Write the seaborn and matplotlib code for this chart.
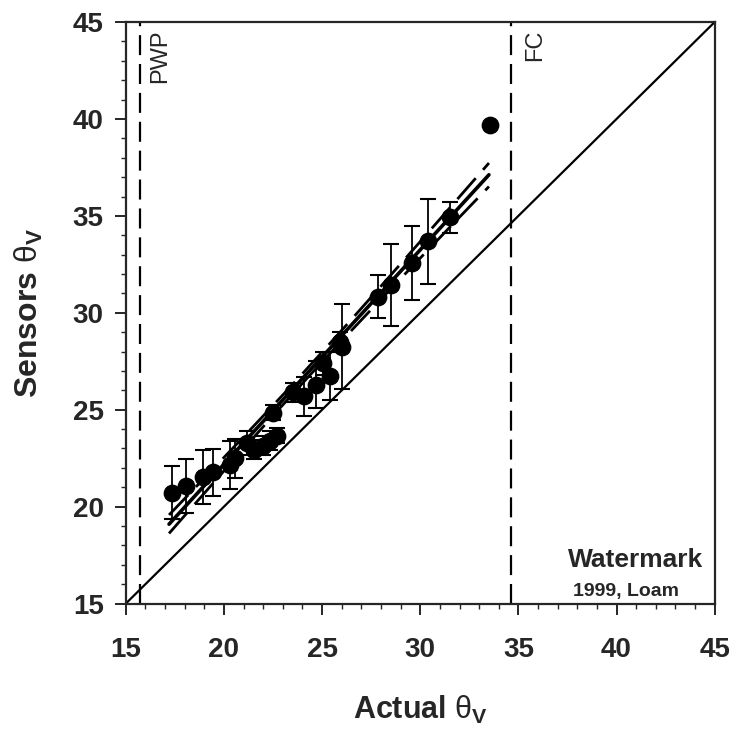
import numpy as np
import pandas as pd
import seaborn as sns
import matplotlib
matplotlib.use("Agg")
import matplotlib.pyplot as plt

# values
actual = [17.33, 18.06, 18.91, 19.42, 20.30, 20.56, 21.16, 21.53, 21.99, 22.35,
          22.70, 22.50, 23.50, 24.08, 24.69, 25.05, 25.41, 25.90, 26.00, 27.87,
          28.52, 29.60, 30.38, 31.50, 33.57]
sensors = [20.72, 21.05, 21.53, 21.77, 22.16, 22.50, 23.28, 22.94, 23.14, 23.40,
           23.66, 24.85, 25.90, 25.69, 26.29, 27.40, 26.75, 28.50, 28.26, 30.84,
           31.44, 32.58, 33.68, 34.93, 39.69]
sensors_err = [1.35, 1.40, 1.40, 1.20, 1.25, 1.00, 0.60, 0.50, 0.50, 0.50,
               0.40, 0.40, 0.50, 1.00, 1.20, 0.60, 1.25, 0.50, 2.20, 1.10,
               2.10, 1.90, 2.20, 0.80, 0.0]

# regression line and its confidence band
fit_slope = 1.106
fit_intercept = 0.07
fit_range = [17.2, 33.5]
resid_sd = 0.6
t_val = 2.07

pwp = 15.7
fc = 34.6
lims = [15, 45]

df = pd.DataFrame({"actual": actual, "sensors": sensors, "err": sensors_err})

xs = np.linspace(fit_range[0], fit_range[1], 60)
n = len(actual)
xbar = np.mean(actual)
sxx = np.sum((np.array(actual) - xbar) ** 2)
yfit = fit_intercept + fit_slope * xs
hw = t_val * resid_sd * np.sqrt(1 / n + (xs - xbar) ** 2 / sxx)
fit_df = pd.DataFrame({"x": xs, "fit": yfit, "lo": yfit - hw, "hi": yfit + hw})

sns.set_style("ticks")
plt.rcParams["font.family"] = ["Liberation Sans", "DejaVu Sans"]
plt.rcParams["mathtext.fontset"] = "custom"
plt.rcParams["mathtext.rm"] = "Liberation Sans"
plt.rcParams["mathtext.bf"] = "Liberation Sans:bold"

fig = plt.figure(figsize=(7.36, 7.36), dpi=100)
ax = fig.add_axes([0.171, 0.180, 0.800, 0.790])

# 1:1 line
ax.plot(lims, lims, color="black", lw=1.6)

# PWP / FC
ax.axvline(pwp, color="black", lw=1.6, dashes=(9, 4))
ax.axvline(fc, color="black", lw=1.6, dashes=(9, 4))

# regression + confidence lines
sns.lineplot(data=fit_df, x="x", y="fit", ax=ax, color="black", lw=2.6)
sns.lineplot(data=fit_df, x="x", y="hi", ax=ax, color="black", lw=2.0)
sns.lineplot(data=fit_df, x="x", y="lo", ax=ax, color="black", lw=2.0)
ax.lines[-2].set_dashes((10, 4))
ax.lines[-1].set_dashes((10, 4))

# error bars and points
bars = df[df["err"] > 0]
ax.errorbar(bars["actual"], bars["sensors"], yerr=bars["err"], fmt="none",
            ecolor="black", elinewidth=1.3, capsize=6, capthick=1.5)
sns.scatterplot(data=df, x="actual", y="sensors", ax=ax, color="black",
                s=140, edgecolor="black", zorder=5)

ax.set_xlim(lims)
ax.set_ylim(lims)
ax.set_xticks(range(15, 46, 5))
ax.set_yticks(range(15, 46, 5))
ax.set_xticks(range(15, 46), minor=True)
ax.set_yticks(range(15, 46), minor=True)
ax.tick_params(which="major", direction="out", length=8, width=1.4,
               labelsize=20)
ax.tick_params(axis="x", which="major", pad=16)
ax.tick_params(axis="y", which="major", pad=8)
ax.tick_params(which="minor", direction="out", length=3.5, width=1.0)
for lab in ax.get_xticklabels() + ax.get_yticklabels():
    lab.set_fontweight("bold")
for sp in ax.spines.values():
    sp.set_linewidth(1.6)
    sp.set_visible(True)

ax.set_xlabel(r"Actual $\mathrm{\theta}_{\mathbf{V}}$", fontsize=22,
              fontweight="bold", labelpad=22)
ax.set_ylabel(r"Sensors $\mathrm{\theta}_{\mathbf{V}}$", fontsize=23,
              fontweight="bold", labelpad=20)

ax.text(16.2, 44.6, "PWP", rotation=90, ha="left", va="top", fontsize=17)
ax.text(35.3, 44.6, "FC", rotation=90, ha="left", va="top", fontsize=17)
ax.text(44.4, 16.9, "Watermark", ha="right", va="baseline", fontsize=19,
        fontweight="bold")
ax.text(43.2, 15.4, "1999, Loam", ha="right", va="baseline", fontsize=14,
        fontweight="bold")

fig.savefig("out.png", dpi=100)
